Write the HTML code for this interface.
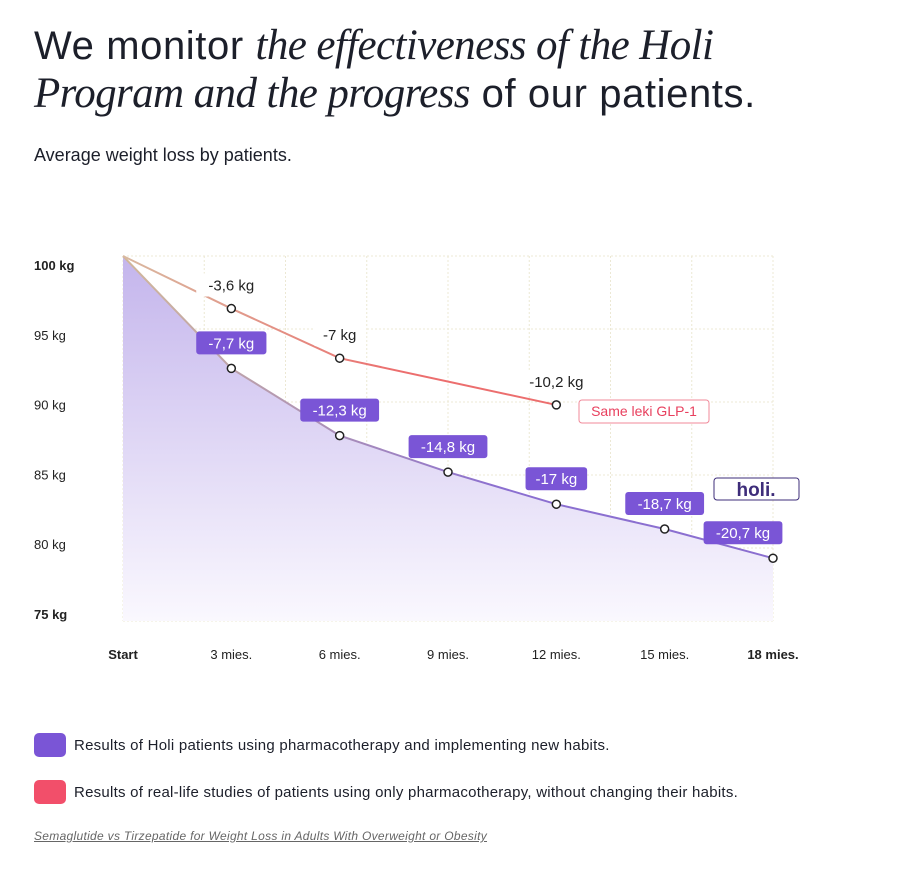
<!DOCTYPE html>
<html><head><meta charset="utf-8">
<style>
body{margin:0;background:#fff;width:898px;height:874px;overflow:hidden;font-family:"Liberation Sans",sans-serif;color:#1c1f2a;position:relative}
#title{position:absolute;left:34px;top:22px;font-size:40px;line-height:48px;margin:0;font-weight:normal;letter-spacing:0.6px;white-space:nowrap}
#title i{font-family:"Liberation Serif",serif;letter-spacing:-0.6px;font-size:43px}
#sub{position:absolute;left:34px;top:145px;font-size:18px;margin:0}
.leg{position:absolute;left:34px;font-size:15px;letter-spacing:0.25px;display:flex;align-items:center}
.sw{width:32px;height:24px;border-radius:5px;margin-right:8px}
#src{position:absolute;left:34px;top:829px;font-size:12px;font-style:italic;color:#666;text-decoration:underline;letter-spacing:0.3px}
svg{position:absolute;left:0;top:0}
</style></head><body>
<h1 id="title">We monitor <i>the effectiveness of the Holi</i><br><i>Program and the progress</i> of our patients.</h1>
<p id="sub">Average weight loss by patients.</p>
<svg id="chart" width="898" height="700">
<defs>
<linearGradient id="area" x1="0" y1="0" x2="0" y2="1"><stop offset="0" stop-color="#c4b5ec"/><stop offset="1" stop-color="#faf8fe"/></linearGradient>
<linearGradient id="pline" gradientUnits="userSpaceOnUse" x1="123" y1="0" x2="500" y2="0"><stop offset="0" stop-color="#d2b89a"/><stop offset="1" stop-color="#8b6fd0"/></linearGradient>
<linearGradient id="rline" gradientUnits="userSpaceOnUse" x1="123" y1="0" x2="400" y2="0"><stop offset="0" stop-color="#d9b9a0"/><stop offset="1" stop-color="#ec6e6e"/></linearGradient>
</defs>
</svg>
<div class="leg" style="top:733px"><div class="sw" style="background:#7a55d6"></div>Results of Holi patients using pharmacotherapy and implementing new habits.</div>
<div class="leg" style="top:780px"><div class="sw" style="background:#f24f6a"></div>Results of real-life studies of patients using only pharmacotherapy, without changing their habits.</div>
<div id="src">Semaglutide vs Tirzepatide for Weight Loss in Adults With Overweight or Obesity</div>
<script>
const categories=["Start","3 mies.","6 mies.","9 mies.","12 mies.","15 mies.","18 mies."];
const holiValues=[100,92.3,87.7,85.2,83,81.3,79.3];
const holiLabels=["","-7,7 kg","-12,3 kg","-14,8 kg","-17 kg","-18,7 kg","-20,7 kg"];
const glpCategoryIndex=[0,1,2,4];
const glpValues=[100,96.4,93,89.8];
const glpLabels=["","-3,6 kg","-7 kg","-10,2 kg"];
const yTicks=[100,95,90,85,80,75];
const NS="http://www.w3.org/2000/svg";
const svg=document.getElementById('chart');
const x0=123,x1=773,yTop=256,yBot=621;
const xs=i=>x0+i*(x1-x0)/(categories.length-1);
const ys=v=>yTop+(100-v)*(yBot-yTop)/25;
const yl=v=>265+(100-v)*(614-265)/25;
function mk(t,a,p){const e=document.createElementNS(NS,t);for(const k in a)e.setAttribute(k,a[k]);(p||svg).appendChild(e);return e;}
for(let k=0;k<=8;k++){const gx=x0+k*(x1-x0)/8;
const g=mk('line',{x1:gx,x2:gx,y1:yTop,y2:yBot,stroke:'#ece8d4','stroke-dasharray':'2 2'});

}
yTicks.forEach(v=>{const g=mk('line',{x1:x0,x2:x1,y1:ys(v),y2:ys(v),stroke:'#ece8d4','stroke-dasharray':'2 2'});


const t=mk('text',{x:34,y:yl(v)+5,'font-size':13,fill:'#222','font-weight':(v==100||v==75)?'bold':'normal'});t.textContent=v+' kg';

});
categories.forEach((c,i)=>{const t=mk('text',{x:xs(i),y:659,'font-size':13,'text-anchor':'middle',fill:'#222','font-weight':(i==0||i==categories.length-1)?'bold':'normal'});t.textContent=c;

});
let d='M'+xs(0)+','+ys(holiValues[0]);holiValues.forEach((v,i)=>{if(i)d+=' L'+xs(i)+','+ys(v);});
const area=mk('path',{d:d+' L'+xs(holiValues.length-1)+','+yBot+' L'+x0+','+yBot+' Z',fill:'url(#area)'});


const pl=mk('path',{d:d,fill:'none',stroke:'url(#pline)','stroke-width':2});


let d2='M'+xs(glpCategoryIndex[0])+','+ys(glpValues[0]);glpValues.forEach((v,i)=>{if(i)d2+=' L'+xs(glpCategoryIndex[i])+','+ys(v);});
const rl=mk('path',{d:d2,fill:'none',stroke:'url(#rline)','stroke-width':2});


function label(x,y,txt,purple,name){
  const g=mk('g',{});
  
  
  const w=txt.length*8.6+10;
  mk('rect',{x:x-w/2,y:y-23,width:w,height:23,rx:3,fill:purple?'#7a55d6':'#fff'},g);
  const t=mk('text',{x:x,y:y-6,'font-size':15,'text-anchor':'middle',fill:purple?'#fff':'#222'},g);t.textContent=txt;
}
glpValues.forEach((v,i)=>{if(!i)return;const cx=xs(glpCategoryIndex[i]);label(cx,ys(v)-12,glpLabels[i],false,'glp1-value-label');
const c=mk('circle',{cx:cx,cy:ys(v),r:4,fill:'#fff',stroke:'#222','stroke-width':1.5});

});
holiValues.forEach((v,i)=>{if(!i)return;label(xs(i)-(i==6?30:0),ys(v)-14,holiLabels[i],true,'holi-value-label');
const c=mk('circle',{cx:xs(i),cy:ys(v),r:4,fill:'#fff',stroke:'#222','stroke-width':1.5});

});
const tg=mk('g',{});


mk('rect',{x:579,y:400,width:130,height:23,rx:3,fill:'#fff',stroke:'#f08a9a'},tg);
const tt=mk('text',{x:644,y:416,'font-size':14,'text-anchor':'middle',fill:'#e8405e'},tg);tt.textContent='Same leki GLP-1';
const hg=mk('g',{});


mk('rect',{x:714,y:478,width:85,height:22,rx:3,fill:'#fff',stroke:'#3e2d7a'},hg);
const ht=mk('text',{x:756,y:496,'font-size':19,'font-weight':'bold','text-anchor':'middle',fill:'#3e2d7a'},hg);ht.textContent='holi.';
</script>
</body></html>
